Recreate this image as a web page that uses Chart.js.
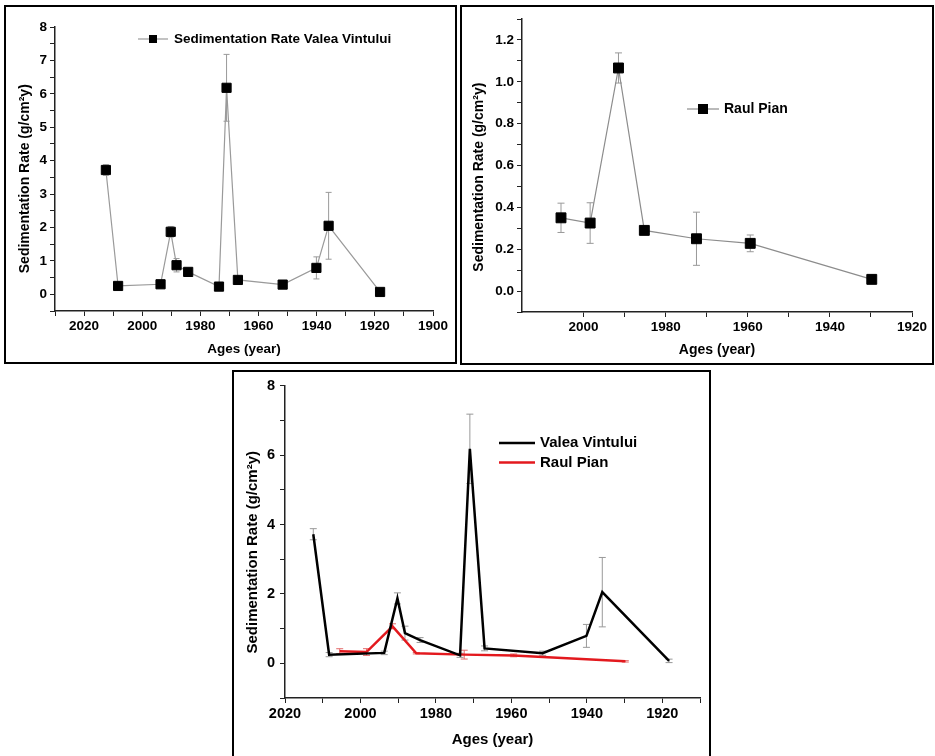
<!DOCTYPE html>
<html>
<head>
<meta charset="utf-8">
<script src="https://cdn.jsdelivr.net/npm/chart.js@4.4.1/dist/chart.umd.min.js"></script>
<style>
    body { margin: 0; background: #fff; width: 935px; height: 756px; overflow: hidden; position: relative; }
    .panel { position: absolute; border: 2px solid #000; box-sizing: border-box; background: #fff; }
    .panel canvas { display: block; }
</style>
</head>
<body>
<div class="panel" style="left:4px; top:5px; width:453px; height:359px;"><canvas id="vv-chart"></canvas></div>
<div class="panel" style="left:460px; top:5px; width:474px; height:360px;"><canvas id="rp-chart"></canvas></div>
<div class="panel" style="left:232px; top:370px; width:479px; height:392px;"><canvas id="both-chart"></canvas></div>
<script>
// Valea Vintului core
const vvYears = [2012.5, 2008.3, 1993.7, 1990.2, 1988.2, 1984.2, 1973.6, 1971.0, 1967.1, 1951.7, 1940.1, 1935.9, 1918.2];
const vvRates = [3.72, 0.25, 0.30, 1.87, 0.87, 0.67, 0.23, 6.18, 0.43, 0.29, 0.79, 2.05, 0.07];
const vvErrors = [0.16, 0.06, 0.05, 0.16, 0.20, 0.07, 0.06, 1.00, 0.07, 0.06, 0.33, 1.00, 0.05];

// Raul Pian core
const rpYears = [2005.5, 1998.4, 1991.5, 1985.2, 1972.5, 1959.4, 1929.8];
const rpRates = [0.35, 0.325, 1.066, 0.29, 0.25, 0.228, 0.056];
const rpErrors = [0.07, 0.097, 0.072, 0.02, 0.127, 0.04, 0.02];

const xTitle = 'Ages (year)';
const yTitle = 'Sedimentation Rate (g/cm\u00b2y)';

const toPoints = (xs, ys) => xs.map((x, i) => ({ x: x, y: ys[i] }));
const FONT = '"Liberation Sans", Arial, sans-serif';

// error bars drawn under the markers, from dataset.errors
const errorBars = {
    id: 'errorBars',
    beforeDatasetsDraw(chart) {
        const { ctx, scales: { x, y } } = chart;
        chart.data.datasets.forEach(ds => {
            if (!ds.errors) return;
            const cap = ds.errorCap || 3;
            ctx.save();
            ctx.strokeStyle = ds.errorColor || '#999';
            ctx.lineWidth = 1;
            ds.data.forEach((p, j) => {
                const e = ds.errors[j];
                const px = x.getPixelForValue(p.x);
                const top = y.getPixelForValue(p.y + e);
                const bot = y.getPixelForValue(p.y - e);
                ctx.beginPath();
                ctx.moveTo(px, top); ctx.lineTo(px, bot);
                ctx.moveTo(px - cap, top); ctx.lineTo(px + cap, top);
                ctx.moveTo(px - cap, bot); ctx.lineTo(px + cap, bot);
                ctx.stroke();
            });
            ctx.restore();
        });
    }
};

// legend placed inside the plot like the original figure
const boxLegend = {
    id: 'boxLegend',
    afterDraw(chart, args, o) {
        if (!o || o.x === undefined) return;
        const ctx = chart.ctx;
        ctx.save();
        ctx.font = 'bold ' + o.size + 'px ' + FONT;
        ctx.textBaseline = 'middle';
        chart.data.datasets.forEach((ds, i) => {
            const y = o.y + i * (o.rowH || 0);
            ctx.strokeStyle = ds.borderColor;
            ctx.lineWidth = ds.borderWidth;
            ctx.beginPath();
            ctx.moveTo(o.x, y);
            ctx.lineTo(o.x + o.len, y);
            ctx.stroke();
            if (o.box) {
                ctx.fillStyle = '#000';
                ctx.fillRect(o.x + o.len / 2 - o.box / 2, y - o.box / 2, o.box, o.box);
            }
            ctx.fillStyle = '#000';
            ctx.fillText(ds.label, o.x + o.len + o.gap, y);
        });
        ctx.restore();
    }
};

Chart.register(errorBars, boxLegend);

function axes(o) {
    const tickFont = { family: FONT, weight: 'bold', size: o.tickSize };
    return {
        x: {
            type: 'linear', reverse: true, min: o.xMin, max: o.xMax,
            afterFit: s => { s.height = o.xHeight; },
            border: { color: '#222', width: 1.5 },
            grid: { drawOnChartArea: false, tickLength: 5, tickColor: '#222', tickWidth: 1 },
            ticks: {
                stepSize: 10, padding: 2, color: '#000', font: tickFont, maxRotation: 0, autoSkip: false,
                callback: v => v % 20 === 0 ? String(v) : (v % 10 === 0 ? '' : null)
            },
            title: { display: true, text: xTitle, color: '#000', padding: { top: 0, bottom: o.xTitlePad },
                     font: { family: FONT, weight: 'bold', size: o.xTitleSize } }
        },
        y: {
            type: 'linear', min: o.yMin, max: o.yMax,
            afterFit: s => { s.width = o.yWidth; },
            border: { color: '#222', width: 1.5 },
            grid: { drawOnChartArea: false, tickLength: 5, tickColor: '#222', tickWidth: 1 },
            ticks: {
                stepSize: o.yStep, padding: o.yTickPad, color: '#000', font: tickFont, autoSkip: false,
                callback: o.yLabel
            },
            title: { display: true, text: yTitle + '\u00a0'.repeat(o.ySpaces), color: '#000',
                     padding: { top: o.yTitlePad, bottom: 0 },
                     font: { family: FONT, weight: 'bold', size: o.yTitleSize } }
        }
    };
}

const baseOptions = {
    responsive: true,
    maintainAspectRatio: false,
    animation: false,
    devicePixelRatio: 1,
    plugins: { legend: { display: false }, tooltip: { enabled: false } }
};

// 1. Valea Vintului
new Chart(document.getElementById('vv-chart'), {
    type: 'scatter',
    data: {
        datasets: [{
            label: 'Sedimentation Rate Valea Vintului',
            data: toPoints(vvYears, vvRates), errors: vvErrors, errorColor: '#9a9a9a', errorCap: 3,
            showLine: true, borderColor: '#9a9a9a', borderWidth: 1.2,
            pointStyle: 'rect', pointRadius: 6.5, pointBackgroundColor: '#000', pointBorderColor: '#000', pointBorderWidth: 1
        }]
    },
    options: {
        ...baseOptions,
        layout: { padding: { top: 20, right: 22, left: 0, bottom: 0 } },
        plugins: { ...baseOptions.plugins, boxLegend: { x: 132, y: 32, len: 30, gap: 6, box: 8, size: 13.5 } },
        scales: axes({
            xMin: 1900, xMax: 2030, yMin: -0.5, yMax: 8, yStep: 0.5,
            yLabel: v => Math.abs(v - Math.round(v)) < 1e-6 ? String(Math.round(v)) : '',
            xHeight: 51, yWidth: 49, tickSize: 13.5, yTickPad: 3,
            xTitleSize: 13.5, xTitlePad: 5, yTitleSize: 14, yTitlePad: 11, ySpaces: 5
        })
    }
});

// 2. Raul Pian
new Chart(document.getElementById('rp-chart'), {
    type: 'scatter',
    data: {
        datasets: [{
            label: 'Raul Pian',
            data: toPoints(rpYears, rpRates), errors: rpErrors, errorColor: '#999', errorCap: 3.5,
            showLine: true, borderColor: '#8c8c8c', borderWidth: 1.2,
            pointStyle: 'rect', pointRadius: 7, pointBackgroundColor: '#000', pointBorderColor: '#000', pointBorderWidth: 1
        }]
    },
    options: {
        ...baseOptions,
        layout: { padding: { top: 12, right: 20, left: 0, bottom: 0 } },
        plugins: { ...baseOptions.plugins, boxLegend: { x: 225, y: 102, len: 32, gap: 5, box: 10, size: 14 } },
        scales: axes({
            xMin: 1920, xMax: 2015, yMin: -0.1, yMax: 1.3, yStep: 0.1,
            yLabel: v => Math.round(v * 10) % 2 === 0 ? v.toFixed(1) : '',
            xHeight: 51, yWidth: 60, tickSize: 13.5, yTickPad: 3,
            xTitleSize: 14, xTitlePad: 4, yTitleSize: 14, yTitlePad: 9, ySpaces: 6
        })
    }
});

// 3. Both cores
new Chart(document.getElementById('both-chart'), {
    type: 'scatter',
    data: {
        datasets: [
            { label: 'Valea Vintului', data: toPoints(vvYears, vvRates), errors: vvErrors, errorColor: '#999', errorCap: 3.5,
              showLine: true, borderColor: '#000', borderWidth: 2.5, pointRadius: 0 },
            { label: 'Raul Pian', data: toPoints(rpYears, rpRates), errors: rpErrors, errorColor: '#e36a6a', errorCap: 3.5,
              showLine: true, borderColor: '#e3191e', borderWidth: 2.5, pointRadius: 0 }
        ]
    },
    options: {
        ...baseOptions,
        layout: { padding: { top: 12, right: 9, left: 0, bottom: 0 } },
        plugins: { ...baseOptions.plugins, boxLegend: { x: 265, y: 71, rowH: 19.5, len: 36, gap: 5, size: 15 } },
        scales: axes({
            xMin: 1910, xMax: 2020, yMin: -1, yMax: 8, yStep: 1,
            yLabel: v => v % 2 === 0 ? String(v) : '',
            xHeight: 62, yWidth: 51, tickSize: 14.5, yTickPad: 5,
            xTitleSize: 15, xTitlePad: 11, yTitleSize: 15, yTitlePad: 10, ySpaces: 5
        })
    }
});
</script>
</body>
</html>
